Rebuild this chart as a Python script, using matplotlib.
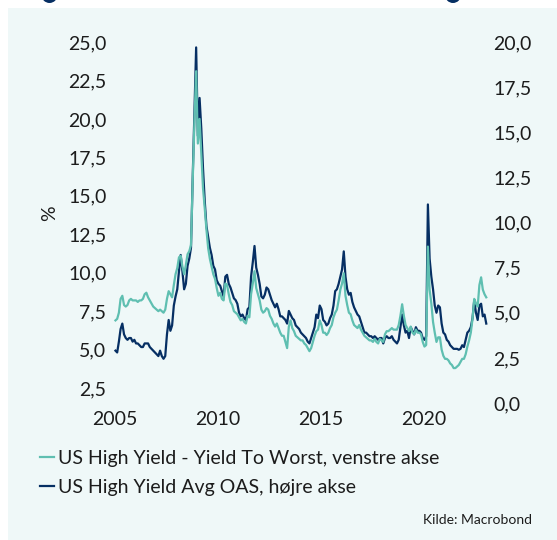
import numpy as np
import matplotlib.pyplot as plt
from matplotlib.patches import Rectangle, Ellipse

# Monthly observations, Jan 2005 - Jan 2023
# US High Yield - Yield To Worst (%), left axis
ytw = [
    # 2005
    6.9, 7.0, 7.4, 8.3, 8.5, 7.9, 7.8, 7.9, 8.2, 8.3, 8.2, 8.2,
    # 2006
    8.2, 8.1, 8.2, 8.2, 8.3, 8.6, 8.7, 8.4, 8.2, 8.0, 7.8, 7.7,
    # 2007
    7.6, 7.5, 7.6, 7.5, 7.4, 7.6, 8.3, 8.8, 8.6, 8.4, 9.2, 9.9,
    # 2008
    10.3, 11.0, 11.1, 10.4, 9.9, 10.5, 11.2, 11.4, 11.8, 16.0, 19.8, 23.1,
    # 2009
    18.4, 20.0, 17.7, 15.5, 14.2, 12.8, 11.6, 10.9, 10.4, 9.9, 9.6, 9.0,
    # 2010
    8.5, 8.7, 8.3, 8.2, 9.3, 9.2, 8.6, 8.1, 7.9, 7.5, 7.4, 7.3,
    # 2011
    7.1, 6.9, 7.0, 6.8, 6.7, 7.2, 7.1, 8.6, 9.3, 10.1, 9.0, 8.6,
    # 2012
    8.2, 7.6, 7.4, 7.5, 7.7, 7.6, 7.2, 7.0, 6.7, 6.5, 6.7, 6.4,
    # 2013
    6.1, 5.9, 5.9, 5.5, 5.1, 6.5, 6.9, 6.4, 6.2, 5.9, 5.8, 5.7,
    # 2014
    5.6, 5.6, 5.4, 5.3, 5.1, 4.9, 5.1, 5.5, 5.9, 6.2, 6.3, 6.9,
    # 2015
    6.6, 6.1, 6.1, 5.95, 6.1, 6.4, 6.6, 7.1, 7.4, 7.6, 8.2, 8.9,
    # 2016
    9.3, 9.96, 8.5, 7.9, 7.4, 7.3, 6.9, 6.6, 6.5, 6.4, 6.6, 6.3,
    # 2017
    6.1, 5.9, 5.8, 5.7, 5.6, 5.6, 5.5, 5.7, 5.5, 5.4, 5.7, 5.6,
    # 2018
    5.5, 6.0, 6.2, 6.2, 6.3, 6.4, 6.3, 6.3, 6.3, 6.6, 7.2, 7.95,
    # 2019
    7.2, 6.6, 6.4, 6.2, 6.5, 6.1, 6.0, 6.3, 6.1, 6.1, 6.0, 5.5,
    # 2020
    5.2, 5.3, 11.7, 8.9, 8.0, 6.8, 6.1, 5.5, 5.8, 5.8, 5.0, 4.6,
    # 2021
    4.4, 4.4, 4.3, 4.1, 4.0, 3.8, 3.8, 3.9, 4.0, 4.2, 4.4, 4.4,
    # 2022
    4.7, 5.2, 5.6, 6.1, 7.0, 8.3, 8.0, 7.8, 9.2, 9.7, 8.9, 8.6,
    # 2023
    8.4,
]

# US High Yield Avg OAS (%), right axis
oas = [
    # 2005
    2.9, 2.8, 3.4, 4.1, 4.4, 3.8, 3.6, 3.5, 3.6, 3.6, 3.4, 3.5,
    # 2006
    3.3, 3.3, 3.2, 3.1, 3.1, 3.3, 3.3, 3.3, 3.1, 3.0, 2.9, 2.8,
    # 2007
    2.7, 2.6, 2.9, 2.6, 2.45, 2.6, 3.8, 4.6, 4.0, 4.3, 5.4, 5.9,
    # 2008
    6.3, 7.3, 8.2, 7.3, 6.3, 6.6, 7.6, 8.0, 8.6, 12.5, 16.0, 19.7,
    # 2009
    14.8, 16.9, 15.2, 13.0, 11.2, 9.8, 9.2, 8.6, 8.2, 7.6, 7.4, 6.8,
    # 2010
    6.6, 6.5, 6.2, 5.9, 7.0, 7.1, 6.6, 6.4, 6.1, 5.8, 5.7, 5.5,
    # 2011
    5.0, 4.8, 4.9, 4.7, 4.6, 5.2, 5.3, 7.0, 7.8, 8.7, 7.5, 7.1,
    # 2012
    6.6, 5.9, 5.8, 6.0, 6.4, 6.3, 6.0, 5.7, 5.5, 5.3, 5.5, 5.2,
    # 2013
    4.8, 4.8, 4.7, 4.6, 4.4, 5.1, 4.9, 4.7, 4.6, 4.3, 4.2, 4.1,
    # 2014
    3.9, 3.8, 3.7, 3.6, 3.4, 3.3, 3.6, 3.9, 4.2, 4.9, 4.7, 5.4,
    # 2015
    5.2, 4.6, 4.5, 4.3, 4.4, 4.7, 4.9, 5.4, 6.2, 6.3, 6.6, 7.0,
    # 2016
    7.4, 8.4, 7.0, 6.3, 6.0, 6.1, 5.6, 5.3, 5.1, 4.9, 4.8, 4.5,
    # 2017
    4.2, 3.9, 3.9, 3.8, 3.7, 3.7, 3.6, 3.7, 3.6, 3.5, 3.6, 3.6,
    # 2018
    3.3, 3.6, 3.7, 3.6, 3.6, 3.7, 3.5, 3.4, 3.3, 3.5, 4.2, 4.9,
    # 2019
    4.3, 3.9, 4.0, 3.6, 4.2, 4.0, 3.8, 4.2, 4.0, 4.0, 3.9, 3.6,
    # 2020
    3.5, 3.7, 11.0, 8.0, 7.0, 6.3, 5.4, 5.0, 5.4, 5.3, 4.4, 3.9,
    # 2021
    3.8, 3.5, 3.4, 3.2, 3.1, 3.0, 3.0, 3.0, 2.95, 3.0, 3.2, 3.1,
    # 2022
    3.5, 3.9, 4.0, 4.2, 4.7, 5.7, 5.0, 4.6, 5.4, 5.5, 4.8, 4.9,
    # 2023
    4.4,
]

left_ticks = [2.5, 5.0, 7.5, 10.0, 12.5, 15.0, 17.5, 20.0, 22.5, 25.0]
right_ticks = [0.0, 2.5, 5.0, 7.5, 10.0, 12.5, 15.0, 17.5, 20.0]
year_ticks = [2005, 2010, 2015, 2020]

label_ytw = "US High Yield - Yield To Worst, venstre akse"
label_oas = "US High Yield Avg OAS, højre akse"

teal = "#5fbfb1"
navy = "#062f63"
panel = "#eff8f8"
txt = "#1c1c1c"

# mid-month positions in decimal years
t = 2005 + (np.arange(len(ytw)) + 0.5) / 12

plt.rcParams["font.family"] = ["Lato", "DejaVu Sans"]

W, H = 557, 540
fig = plt.figure(figsize=(W / 100, H / 100), dpi=100, facecolor="white")

# light panel behind everything, plus the edge of the header icons
fig.patches.append(Rectangle((8 / W, 0), 1, 1 - 8 / H, transform=fig.transFigure,
                             facecolor=panel, edgecolor="none", zorder=-10))
for cx in (49.5, 453):
    fig.patches.append(Ellipse((cx / W, 1 + 5 / H), 16 / W, 16 / H,
                               transform=fig.transFigure, facecolor=navy,
                               edgecolor="none", zorder=-9))

ax_l, ax_r, ax_b, ax_t = 112, 488, 403, 42
px_per_year = 20.6
ax = fig.add_axes([ax_l / W, 1 - ax_b / H, (ax_r - ax_l) / W, (ax_b - ax_t) / H])
ax2 = ax.twinx()

ax2.plot(t, oas, color=navy, lw=1.6, label=label_oas)
ax.plot(t, ytw, color=teal, lw=1.6, label=label_ytw)

# keep the yield line drawn above the spread line
ax.set_zorder(ax2.get_zorder() + 1)
ax.patch.set_visible(False)
ax2.patch.set_visible(False)

ax.set_xlim(2005 + (ax_l - 114.6) / px_per_year, 2005 + (ax_r - 114.6) / px_per_year)
ax.set_ylim(25 - 23.47, 25)
ax2.set_ylim(0, 20)

fmt = lambda v: f"{v:.1f}".replace(".", ",")
ax.set_yticks(left_ticks)
ax.set_yticklabels([fmt(v) for v in left_ticks])
ax2.set_yticks(right_ticks)
ax2.set_yticklabels([fmt(v) for v in right_ticks])
ax.set_xticks(year_ticks)
ax.set_xticklabels([str(y) for y in year_ticks])

for a in (ax, ax2):
    for s in a.spines.values():
        s.set_visible(False)
    a.tick_params(length=0, labelsize=14, colors=txt)
ax.tick_params(axis="y", pad=4)
ax2.tick_params(axis="y", pad=4)
ax.tick_params(axis="x", pad=6)

fig.text(50 / W, 1 - 213 / H, "%", rotation=90, ha="center", va="center",
         fontsize=14, color=txt)

h1, l1 = ax.get_legend_handles_labels()
h2, l2 = ax2.get_legend_handles_labels()
fig.legend(h1 + h2, l1 + l2, loc="upper left", bbox_to_anchor=(40 / W, 1 - 450 / H),
           frameon=False, fontsize=14, handlelength=0.7, handletextpad=0.2,
           labelspacing=0.63, borderpad=0, borderaxespad=0, labelcolor=txt)

fig.text(532 / W, 1 - 520 / H, "Kilde: Macrobond", ha="right", va="center",
         fontsize=10, color=txt)

fig.savefig("out.png", dpi=100, facecolor="white")
